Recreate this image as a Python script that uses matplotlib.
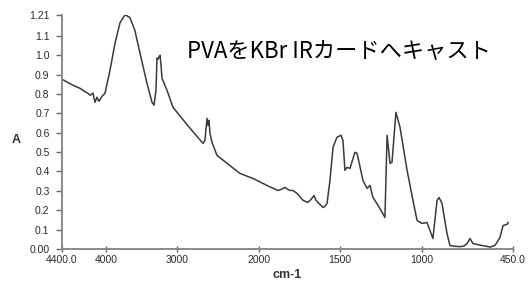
import numpy as np
import matplotlib
matplotlib.use("Agg")
import matplotlib.pyplot as plt

# ---- data ----
wavenumber = [4400, 4300, 4236, 4191, 4168, 4145, 4118, 4100, 4082, 4064, 4050, 4036, 4009,
              3944, 3873, 3803, 3732, 3662, 3592, 3521, 3423, 3352, 3324, 3296,
              3282, 3268, 3254, 3239, 3225, 3211, 3141, 3056,
              2939, 2841, 2683, 2659, 2634, 2622, 2610, 2598, 2573, 2512, 2390,
              2232, 2073,
              1951, 1883, 1864, 1840, 1821, 1809, 1790, 1765, 1728, 1698, 1679,
              1660, 1648, 1636, 1617, 1605, 1593, 1580, 1562, 1543, 1519,
              1494, 1482, 1470, 1457, 1439, 1409, 1396, 1360, 1335, 1317, 1299,
              1268, 1226, 1220, 1213, 1195, 1183, 1159, 1134, 1091, 1055, 1030,
              1000, 970, 952, 934, 909, 897, 879, 849, 831, 800, 770, 745, 728,
              710, 692, 660, 637, 610, 589, 559, 529, 510, 486, 480]
absorbance = [0.876, 0.845, 0.829, 0.812, 0.805, 0.793, 0.804, 0.757, 0.783, 0.762, 0.775, 0.788, 0.804,
              0.922, 1.062, 1.167, 1.209, 1.194, 1.126, 1.010, 0.855, 0.757, 0.742, 0.819,
              0.985, 0.979, 0.990, 1.000, 0.948, 0.881, 0.819, 0.731,
              0.674, 0.623, 0.545, 0.561, 0.674, 0.638, 0.664, 0.597, 0.550, 0.483, 0.442,
              0.390, 0.364,
              0.328, 0.302, 0.307, 0.318, 0.307, 0.302, 0.302, 0.287, 0.251, 0.240, 0.256,
              0.276, 0.251, 0.240, 0.225, 0.214, 0.220, 0.235, 0.354, 0.525, 0.576,
              0.587, 0.561, 0.406, 0.421, 0.416, 0.499, 0.494, 0.354, 0.313, 0.328, 0.266,
              0.225, 0.163, 0.354, 0.587, 0.442, 0.447, 0.705, 0.628, 0.406, 0.251, 0.147,
              0.132, 0.137, 0.096, 0.054, 0.251, 0.266, 0.235, 0.080, 0.018, 0.014, 0.012, 0.016, 0.028,
              0.054, 0.028, 0.022, 0.018, 0.014, 0.010, 0.018, 0.059, 0.121, 0.127, 0.137]

x_ticks = [4400, 4000, 3000, 2000, 1500, 1000, 450]
x_tick_labels = ["4400.0", "4000", "3000", "2000", "1500", "1000", "450.0"]
y_ticks = [0.0, 0.1, 0.2, 0.3, 0.4, 0.5, 0.6, 0.7, 0.8, 0.9, 1.0, 1.1, 1.21]
y_tick_labels = ["0.00", "0.1", "0.2", "0.3", "0.4", "0.5", "0.6", "0.7", "0.8",
                 "0.9", "1.0", "1.1", "1.21"]
title_text = "PVAをKBr IRカードへキャスト"

# piecewise axis scale (instrument-style compressed x axis)
scale_w = np.array([450, 1000, 1500, 2000, 3000, 4000, 4400], dtype=float)
scale_u = np.array([0, 91, 173, 254, 336, 407, 451], dtype=float)

def fwd(w):
    return np.interp(w, scale_w, scale_u)

def inv(u):
    return np.interp(u, scale_u, scale_w)

fig = plt.figure(figsize=(5.29, 2.84), dpi=100)
ax = fig.add_axes([62/529, 1-249/284, (513-62)/529, (249-14.5)/284])
ax.set_xscale("function", functions=(fwd, inv))
ax.plot(wavenumber, absorbance, color="#3a3a3a", lw=1.1)
ax.set_xlim(4400, 450)
ax.set_ylim(0, 1.21)

for s in ["top", "right"]:
    ax.spines[s].set_visible(False)
for s in ["left", "bottom"]:
    ax.spines[s].set_color("#8a8a8a")
    ax.spines[s].set_linewidth(1.4)

tick_font = dict(family=["Liberation Sans", "DejaVu Sans"], size=7.5)
ax.set_xticks(x_ticks)
ax.set_xticklabels(x_tick_labels, **tick_font)
ax.set_yticks(y_ticks)
ax.set_yticklabels(y_tick_labels, **tick_font)
ax.xaxis.set_minor_locator(matplotlib.ticker.NullLocator())
ax.tick_params(axis="x", direction="inout", length=4, width=1, color="#6a6a6a",
               labelcolor="#2a2a2a", pad=2)
ax.tick_params(axis="y", direction="out", length=4, width=1, color="#6a6a6a",
               labelcolor="#2a2a2a", pad=5)

ax.set_xlabel("cm-1", family=["Liberation Sans", "DejaVu Sans"], size=9,
              weight="bold", color="#333333", labelpad=3)
fig.text(16/529, 1-140/284, "A", family=["Liberation Sans", "DejaVu Sans"], size=9,
         weight="bold", color="#333333", ha="center", va="center")

fig.text(187/529, 1-52/284, title_text,
         family=["Noto Sans CJK JP", "DejaVu Sans"], size=16, color="black",
         ha="left", va="center")

fig.savefig("out.png", dpi=100)
